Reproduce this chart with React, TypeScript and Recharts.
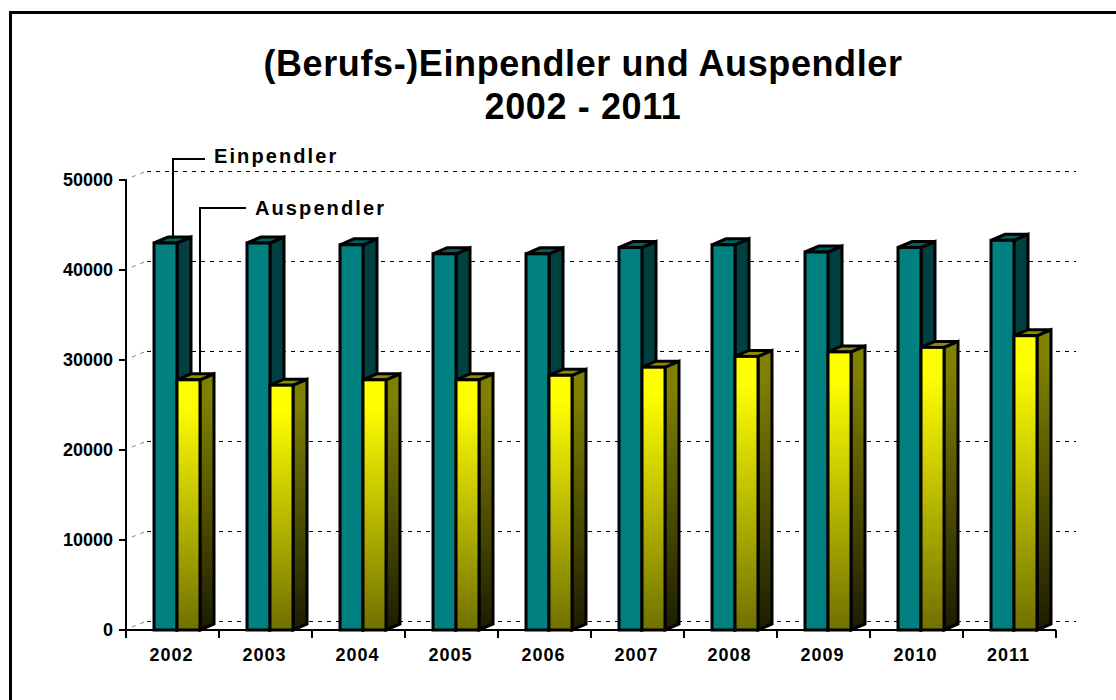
import { Bar, BarChart, CartesianGrid, XAxis, YAxis } from "recharts";

const years = ["2002", "2003", "2004", "2005", "2006", "2007", "2008", "2009", "2010", "2011"];
const einpendler = [43000, 43000, 42800, 41800, 41800, 42500, 42800, 42000, 42500, 43300];
const auspendler = [27800, 27200, 27800, 27800, 28300, 29200, 30400, 30900, 31400, 32700];
const yTicks = [0, 10000, 20000, 30000, 40000, 50000];

const data = years.map((year, i) => ({ year, einpendler: einpendler[i], auspendler: auspendler[i] }));

const W = 1116;
const H = 700;
const DX = 14;
const DY = 6;
const SHIFT = 4;
const BAND = 93;
const font = "'Liberation Sans', Arial, sans-serif";

function Box3D({ x, y, width, height, front, side, top, leader }: any) {
  const l = x + SHIFT;
  const r = l + width;
  const b = y + height;
  return (
    <g stroke="#000" strokeWidth={3} strokeLinejoin="miter">
      <path d={`M${r},${y} L${r + DX},${y - DY} L${r + DX},${b - DY} L${r},${b} Z`} fill={side} />
      <path d={`M${l},${y} L${l + DX},${y - DY} L${r + DX},${y - DY} L${r},${y} Z`} fill={top} />
      <rect x={l} y={y} width={width} height={height} fill={front} />
      {leader}
    </g>
  );
}

function EinShape(props: any) {
  const lx = props.x + SHIFT + 19;
  return (
    <Box3D
      {...props}
      front="#008080"
      side="#004040"
      top="#006060"
      leader={
        props.index === 0 ? (
          <path d={`M${lx},${props.y - 5} L${lx},159 L205,159`} fill="none" strokeWidth={2} />
        ) : null
      }
    />
  );
}

function AusShape(props: any) {
  const lx = props.x + SHIFT + 23;
  return (
    <Box3D
      {...props}
      front="url(#yellowFront)"
      side="url(#yellowSide)"
      top="#8c8c00"
      leader={
        props.index === 0 ? (
          <path d={`M${lx},${props.y - 5} L${lx},208 L246,208`} fill="none" strokeWidth={2} />
        ) : null
      }
    />
  );
}

function YTick({ x, y, payload }: any) {
  return (
    <g>
      <line x1={x + 1} x2={x + 9} y1={y} y2={y} stroke="#000" strokeWidth={2} />
      <text x={x - 5} y={y + 6} textAnchor="end" fontFamily={font} fontWeight="bold" fontSize={18} fill="#000">
        {payload.value}
      </text>
    </g>
  );
}

function XTick({ x, y, payload, index }: any) {
  const base = y - 8;
  return (
    <g>
      {index === 0 ? <line x1={x - BAND / 2} x2={x - BAND / 2} y1={base} y2={base + 8} stroke="#000" strokeWidth={2} /> : null}
      <line x1={x + BAND / 2} x2={x + BAND / 2} y1={base} y2={base + 8} stroke="#000" strokeWidth={2} />
      <text x={x - 1} y={base + 31} textAnchor="middle" fontFamily={font} fontWeight="bold" fontSize={18} letterSpacing={1} fill="#000">
        {payload.value}
      </text>
    </g>
  );
}

function GridLine({ x1, x2, y1, y2 }: any) {
  return (
    <g stroke="#000" strokeWidth={1} strokeDasharray="4 5" fill="none">
      <line x1={x1 + 6} y1={y1 - 3} x2={x1 + 21} y2={y1 - 9} strokeOpacity={0.5} />
      <line x1={x1 + 21} y1={y1 - 9} x2={x2 + 20} y2={y2 - 9} shapeRendering="crispEdges" />
    </g>
  );
}

export default function App() {
  return (
    <div style={{ position: "absolute", left: 0, top: 0, width: W, height: H, background: "#fff", overflow: "hidden" }}>
      <div
        style={{
          position: "absolute",
          left: 9,
          top: 11,
          width: W,
          height: H,
          borderLeft: "3px solid #000",
          borderTop: "3px solid #000",
        }}
      />
      <div
        style={{
          position: "absolute",
          left: 0,
          width: 1166,
          top: 42,
          textAlign: "center",
          fontFamily: font,
          fontWeight: "bold",
          fontSize: 36,
          lineHeight: "43px",
          letterSpacing: 0.6,
          color: "#000",
        }}
      >
        (Berufs-)Einpendler und Auspendler
        <br />
        2002 - 2011
      </div>
      <div style={{ position: "absolute", left: 214, top: 145, fontFamily: font, fontWeight: "bold", fontSize: 20, letterSpacing: 2.1 }}>
        Einpendler
      </div>
      <div style={{ position: "absolute", left: 255, top: 197, fontFamily: font, fontWeight: "bold", fontSize: 20, letterSpacing: 2.1 }}>
        Auspendler
      </div>
      <div style={{ position: "absolute", left: 0, top: 0 }}>
        <BarChart
          width={W}
          height={H}
          data={data}
          margin={{ top: 180, right: 60, bottom: 30, left: 66 }}
          barSize={23}
          barGap={0}
        >
          <defs>
            <linearGradient id="yellowFront" x1="0" y1="0" x2="0" y2="1">
              <stop offset="0" stopColor="#ffff00" />
              <stop offset="0.1" stopColor="#ffff00" />
              <stop offset="1" stopColor="#707000" />
            </linearGradient>
            <linearGradient id="yellowSide" x1="0" y1="0" x2="0" y2="1">
              <stop offset="0" stopColor="#808000" />
              <stop offset="0.1" stopColor="#808000" />
              <stop offset="1" stopColor="#1c1c00" />
            </linearGradient>
          </defs>
          <CartesianGrid vertical={false} horizontal={(p: any) => <GridLine key={p.y1} {...p} />} />
          <XAxis
            dataKey="year"
            height={40}
            interval={0}
            tickLine={false}
            axisLine={{ stroke: "#000", strokeWidth: 2 }}
            tick={<XTick />}
          />
          <YAxis
            domain={[0, 50000]}
            ticks={yTicks}
            width={60}
            tickLine={false}
            axisLine={{ stroke: "#000", strokeWidth: 2 }}
            tick={<YTick />}
          />
          <Bar dataKey="einpendler" isAnimationActive={false} shape={<EinShape />} />
          <Bar dataKey="auspendler" isAnimationActive={false} shape={<AusShape />} />
        </BarChart>
      </div>
    </div>
  );
}
